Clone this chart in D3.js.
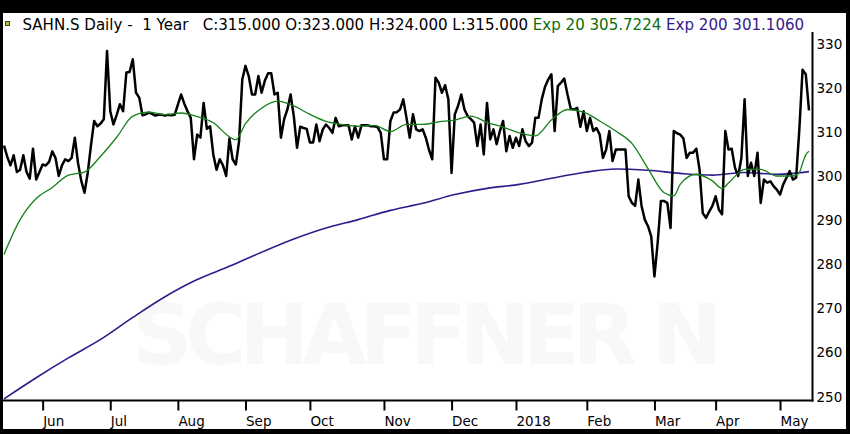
<!DOCTYPE html>
<html>
<head>
<meta charset="utf-8">
<script src="https://cdnjs.cloudflare.com/ajax/libs/d3/7.8.5/d3.min.js" charset="utf-8"></script>
<style>
	body { margin: 0; background: #000; }
	svg { display: block; }
	text { font-family: "DejaVu Sans", Verdana, sans-serif; }
</style>
</head>
<body>
<div id="chart"></div>
<script>

////// Data //////

// daily closes, one per trading day, mid May 2017 .. mid May 2018
var closePrice = [
	307, 304.5, 302.5, 304.8, 301, 301.5, 304.8, 301, 299.5, 306.3,
	299.3, 301, 302.7, 302.5, 303.3, 305.7, 304.2, 300.1, 302.5, 303.9,
	303.5, 304.2, 308.8, 303, 299, 296.3, 300.8, 307, 312.6, 311.4,
	312, 313, 328.5, 314.8, 311.8, 314, 316.4, 314.8, 323.6, 323.7,
	326.6, 319, 317.9, 313.9, 314.1, 314.5, 314.2, 313.8, 314, 314,
	313.8, 314, 313.9, 314, 316.3, 318.6, 316.5, 314.8, 313.3, 303.9,
	309.5, 308.8, 316.7, 310.8, 311.4, 305, 301.5, 303.9, 302.5, 300.1,
	308.6, 303.9, 302.7, 308, 322, 325.1, 322.8, 318.6, 318.6, 322.8,
	319, 321.7, 323.4, 323.4, 318.6, 319, 308.8, 313, 315.2, 318.6,
	313.7, 306.5, 311.3, 311, 310.8, 307.7, 307.7, 311.8, 308, 310.7,
	311.8, 311, 309.9, 313.3, 311.4, 311.6, 311.6, 311.6, 308.4, 311.4,
	308.8, 311.6, 311.6, 311.6, 311.4, 311.4, 311.2, 309.9, 303.9, 303.9,
	312.6, 314.5, 314.6, 315.2, 317.5, 313.3, 308.8, 314.1, 310.7, 310.3,
	310.7, 308.8, 306, 303.9, 322.4, 321.3, 319, 320.7, 317.5, 300.8,
	314.1, 316, 318.6, 315.2, 313.7, 313, 312.2, 306.9, 311.8, 305,
	316.7, 308.4, 310.7, 307.3, 310.3, 312.6, 305.7, 309.2, 306.5, 308.8,
	306.9, 310.7, 308, 306.9, 307.7, 313.3, 313.3, 317.5, 320.3, 322,
	323.2, 310.3, 320.5, 321.3, 322.2, 318.6, 315.4, 315.2, 315.6, 311.3,
	314.8, 310.3, 313.3, 310.3, 311, 309.5, 304.2, 306.1, 310.3, 303.5,
	306.1, 306.1, 306.1, 306.1, 295.5, 294, 293.3, 299.3, 293.3, 290.2,
	288.7, 286.4, 277.3, 284.9, 294.4, 294.4, 294, 288.3, 310.3, 309.8,
	309.5, 308.6, 304.2, 305.4, 305.4, 306.3, 301.6, 291.7, 290.6, 292,
	293.3, 295.5, 292.5, 291.4, 310.3, 306.1, 306.3, 302, 300.1, 304.2,
	317.5, 300.1, 303.1, 300.1, 305.4, 294, 299.3, 298.6, 298.9, 297.8,
	297, 295.9, 298.2, 299.7, 301.2, 299.3, 299.7, 310.7, 324.2, 323.2,
	315
];

// Exp 20, sampled at these trading days
var ema20Days = [0, 5, 10, 15, 20, 25, 30, 35, 40, 45, 50, 55, 60, 65, 70, 72, 75, 80, 85, 90,
	95, 100, 105, 110, 115, 120, 125, 130, 135, 140, 145, 150, 155, 160, 165, 170, 175, 180, 185, 190,
	195, 200, 205, 208, 210, 215, 220, 223, 225, 230, 235, 240, 245, 247, 248, 249, 250];
var ema20 = [282.3, 290.2, 295, 297.5, 300.3, 301, 304.6, 308.9, 313.7, 314.6, 314, 314.4, 313.6, 312.2, 309, 308.3, 312, 315.5, 317.1, 316,
	314.1, 312.5, 311.8, 311.4, 311.6, 310.2, 311.8, 311.8, 312.4, 312.8, 313.7, 312.3, 311.2, 309.9, 309.2, 312.8, 315.2, 314.6, 312.6, 310.3,
	307.5, 301.8, 296.3, 295.6, 298.2, 300.5, 299, 297.3, 298.5, 301.6, 301.6, 300.1, 300.1, 300.9, 303, 304.9, 305.7];

// Exp 200, sampled every ten trading days
var ema200Days = [0, 10, 20, 30, 40, 50, 60, 70, 80, 90, 100, 110, 120, 130, 140, 150, 160, 170, 180, 190, 200, 210, 220, 230, 240, 250];
var ema200 = [249.5, 254.3, 258.8, 263, 268, 272.7, 276.6, 279.6, 282.8, 285.8, 288.3, 290.2, 292.3, 293.9, 295.9, 297.3, 298.2, 299.6, 300.9, 301.7, 301.4, 300.7, 300.3, 300.9, 300.5, 301.1];

var tickDays = [12, 33, 54, 75, 95, 118, 139, 159, 181, 202, 221, 241];
var tickLabels = ["Jun", "Jul", "Aug", "Sep", "Oct", "Nov", "Dec", "2018", "Feb", "Mar", "Apr", "May"];
var yTicks = [250, 260, 270, 280, 290, 300, 310, 320, 330];

////// SVG container //////

var width = 850, height = 434;
var plotRight = 812.5, plotTop = 32, plotBottom = 400.5;

var svg = d3.select("#chart")
	.append("svg")
	.attr("width", width)
	.attr("height", height);

// black frame, white panel
svg.append("rect").attr("width", width).attr("height", height).style("fill", "#000");
svg.append("rect")
	.attr("x", 3).attr("y", 13)
	.attr("width", 843).attr("height", 416)
	.style("fill", "#fff");

////// Scales //////

var x = d3.scaleLinear()
	.domain([0, closePrice.length - 1])
	.range([4, 809]);

var y = d3.scaleLinear()
	.domain([250, 330])
	.range([396.7, 44.3]);

// watermark, barely visible
svg.append("text")
	.attr("x", 132).attr("y", 364)
	.attr("textLength", 590)
	.style("font-size", "84px")
	.style("font-weight", "bold")
	.style("fill", "#f8f8f8")
	.text("SCHAFFNER N");

////// Axes //////

var xAxis = d3.axisBottom(x)
	.tickValues(tickDays)
	.tickSize(10)
	.tickFormat(function(d, i) { return tickLabels[i]; });

var gx = svg.append("g")
	.attr("transform", "translate(0," + plotBottom + ")")
	.call(xAxis);
gx.select(".domain").remove();
gx.selectAll(".tick line").attr("stroke", "#000").attr("stroke-width", 2);
gx.selectAll(".tick text")
	.attr("text-anchor", "start")
	.attr("x", 0)
	.attr("y", 25)
	.attr("dy", 0)
	.style("font-size", "13.5px")
	.style("fill", "#000");

var yAxis = d3.axisRight(y)
	.tickValues(yTicks)
	.tickSize(0)
	.tickPadding(4);

var gy = svg.append("g")
	.attr("transform", "translate(" + plotRight + ",0)")
	.call(yAxis);
gy.select(".domain").remove();
gy.selectAll(".tick text")
	.style("font-size", "13.5px")
	.style("fill", "#000");

svg.append("line")
	.attr("x1", plotRight).attr("x2", plotRight)
	.attr("y1", plotTop).attr("y2", plotBottom + 1)
	.style("stroke", "#000").style("stroke-width", 2);
svg.append("line")
	.attr("x1", 3).attr("x2", plotRight + 1)
	.attr("y1", plotBottom).attr("y2", plotBottom)
	.style("stroke", "#000").style("stroke-width", 2);

////// Lines //////

var emaLine = d3.line()
	.x(function(d) { return x(d[0]); })
	.y(function(d) { return y(d[1]); })
	.curve(d3.curveMonotoneX);

var priceLine = d3.line()
	.x(function(d, i) { return x(i); })
	.y(function(d) { return y(d); });

svg.append("path")
	.datum(d3.zip(ema200Days, ema200))
	.attr("d", emaLine)
	.style("fill", "none")
	.style("stroke", "#2e1c8c")
	.style("stroke-width", 1.6);

svg.append("path")
	.datum(closePrice)
	.attr("d", priceLine)
	.style("fill", "none")
	.style("stroke", "#000")
	.style("stroke-width", 2.5)
	.style("stroke-linejoin", "round");

svg.append("path")
	.datum(d3.zip(ema20Days, ema20))
	.attr("d", emaLine)
	.style("fill", "none")
	.style("stroke", "#16801a")
	.style("stroke-width", 1.3);

////// Header //////

svg.append("rect")
	.attr("x", 5.5).attr("y", 21.5)
	.attr("width", 4).attr("height", 4)
	.style("fill", "#a8c23a")
	.style("stroke", "#3a4a10")
	.style("stroke-width", 1);

var last = closePrice.length - 1;
var header = svg.append("text")
	.attr("x", 22.5).attr("y", 29.5)
	.style("white-space", "pre")
	.style("font-size", "13px");

header.append("tspan")
	.style("fill", "#000")
	.text("SAHN.S Daily -  1 Year   C:" + closePrice[last].toFixed(3) + " O:323.000 H:324.000 L:315.000 ");
header.append("tspan")
	.style("fill", "#0b6e0b")
	.text("Exp 20 305.7224 ");
header.append("tspan")
	.style("fill", "#35198a")
	.text("Exp 200 301.1060");

// fit the header to the width it has in the picture
var len = header.node().getComputedTextLength();
header.style("font-size", (13 * 782.5 / len) + "px");

</script>
</body>
</html>
